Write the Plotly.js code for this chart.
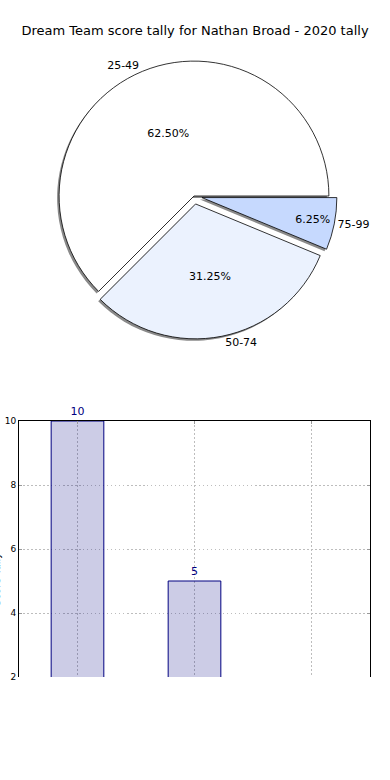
<!DOCTYPE html>
<html>
<head>
<meta charset="utf-8">
<script src="https://cdn.plot.ly/plotly-3.0.1.min.js"></script>
<style>
html,body{margin:0;padding:0;background:#fff;}
#chart{width:390px;height:780px;}
</style>
</head>
<body>
<div id="chart"></div>
<script>
// ---- data ----
var categories = ["25-49", "50-74", "75-99"];
var tally = [10, 5, 1];
var pieColors = ["#FFFFFF", "#EBF2FE", "#C6D9FE"];
var pulls = [0, 0.06, 0.06];
var yTicks = [2, 4, 6, 8, 10];
var titleText = "Dream Team score tally for Nathan Broad - 2020 tally";
var yTitle = "Score Tally";

// ---- geometry helpers (pixels -> paper) ----
var W = 390, H = 780;
function px(x){ return x / W; }
function py(y){ return 1 - y / H; }

var cx = 194, cy = 196, half = 143;
var pieDomain = {x:[px(cx-half), px(cx+half)], y:[py(cy+half), py(cy-half)]};
var shadowDomain = {x:[px(cx-half-2), px(cx+half-2)], y:[py(cy+half+2), py(cy-half+2)]};

var font = "DejaVu Sans, sans-serif";

var shadow = {
  type:"pie", labels:categories, values:tally, sort:false,
  direction:"counterclockwise", rotation:225, pull:pulls,
  marker:{colors:["#8a8a8a","#8a8a8a","#8a8a8a"], line:{width:0}},
  textinfo:"none", hoverinfo:"skip", showlegend:false,
  domain:shadowDomain
};
var pieMain = {
  type:"pie", labels:categories, values:tally, sort:false,
  direction:"counterclockwise", rotation:225, pull:pulls,
  marker:{colors:pieColors, line:{color:"#000", width:0.8}},
  texttemplate:"%{percent:.2%}", textposition:"inside", insidetextorientation:"horizontal",
  textfont:{family:font, size:11, color:"#000"},
  showlegend:false, domain:pieDomain
};
var pieLabels = {
  type:"pie", labels:categories, values:tally, sort:false,
  direction:"counterclockwise", rotation:225, pull:pulls,
  marker:{colors:["rgba(0,0,0,0)","rgba(0,0,0,0)","rgba(0,0,0,0)"], line:{width:0}},
  textinfo:"label", textposition:"outside",
  outsidetextfont:{family:font, size:11, color:"#000"},
  automargin:false, showlegend:false, hoverinfo:"skip", domain:pieDomain
};

var bars = {
  type:"bar", x:categories, y:tally, width:0.45,
  marker:{color:"rgba(0,0,128,0.2)", line:{color:"#000080", width:1}},
  text:tally.map(String), textposition:"outside", cliponaxis:false,
  textfont:{family:font, size:11, color:"#000080"},
  showlegend:false, xaxis:"x", yaxis:"y"
};

var layout = {
  width:W, height:H,
  margin:{l:0, r:0, t:0, b:0},
  paper_bgcolor:"#fff", plot_bgcolor:"#fff",
  font:{family:font, color:"#000"},
  title:{text:titleText, font:{family:font, size:13, color:"#000"},
         x:0.5, xanchor:"center", y:py(30), yanchor:"middle"},
  showlegend:false,
  xaxis:{domain:[px(19), px(370)], anchor:"y", side:"top", type:"category",
         range:[-0.5, 2.5], showticklabels:false,
         showline:true, linecolor:"#000", linewidth:1, mirror:false,
         ticks:"inside", ticklen:3, tickcolor:"#999",
         showgrid:true, gridcolor:"#bdbdbd", griddash:"1.5px,2.5px", gridwidth:1, zeroline:false},
  yaxis:{domain:[py(677), py(421)], anchor:"x", range:[2,10],
         tickvals:yTicks, ticktext:yTicks.map(String),
         tickfont:{family:font, size:9, color:"#000"},
         showline:true, linecolor:"#000", linewidth:1, mirror:"allticks",
         ticks:"inside", ticklen:3, tickcolor:"#999",
         showgrid:true, gridcolor:"#bdbdbd", griddash:"1.5px,2.5px", gridwidth:1, zeroline:false},
  annotations:[{text:yTitle, textangle:-90, xref:"paper", yref:"paper",
                x:px(-4), y:py(580), xanchor:"center", yanchor:"middle",
                showarrow:false, font:{family:font, size:10, color:"#000"}}]
};

Plotly.newPlot("chart", [shadow, pieMain, pieLabels, bars], layout, {staticPlot:true, displayModeBar:false});
</script>
</body>
</html>
